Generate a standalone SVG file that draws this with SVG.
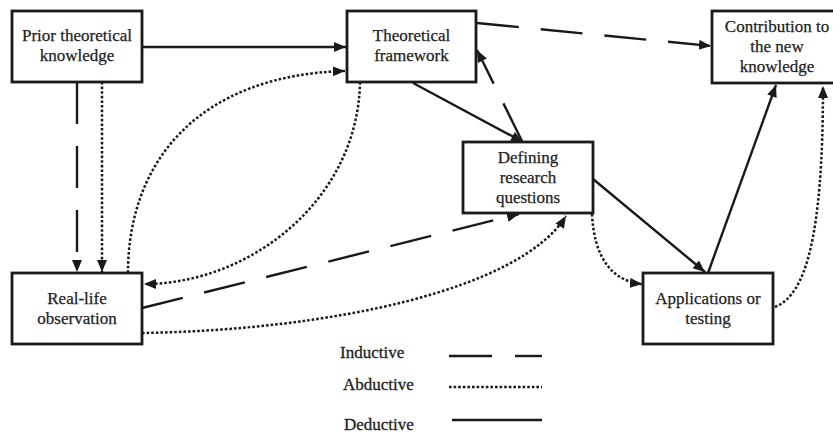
<svg xmlns="http://www.w3.org/2000/svg" width="833" height="434" viewBox="0 0 833 434">
  <style>
    .box { fill: #fff; stroke: #1a1a1a; stroke-width: 2.8; }
    .lbl { font-family: "Liberation Serif", "Times New Roman", serif; font-size: 17px; fill: #222; stroke: #222; stroke-width: 0.25; text-anchor: middle; }
    .leg { font-family: "Liberation Serif", "Times New Roman", serif; font-size: 17px; fill: #222; stroke: #222; stroke-width: 0.3; }
    .ln { fill: none; stroke: #1a1a1a; stroke-width: 2.4; }
    .ind { stroke-dasharray: 42 22; }
    .abd { stroke-dasharray: 2.6 2; stroke-width: 2.5; }
  </style>
  <defs>
    <marker id="arr" markerUnits="userSpaceOnUse" markerWidth="13" markerHeight="11" refX="12" refY="5" orient="auto">
      <path d="M0,0 L12,5 L0,10 z" fill="#1a1a1a"/>
    </marker>
  </defs>

  <rect width="833" height="434" fill="#fff"/>

  <g id="connectors">
    <!-- deductive (solid) -->
    <line class="ln" x1="142" y1="47" x2="346" y2="47" marker-end="url(#arr)"/>
    <line class="ln" x1="413" y1="83" x2="523" y2="142" marker-end="url(#arr)"/>
    <line class="ln" x1="593" y1="179" x2="705" y2="272" marker-end="url(#arr)"/>
    <line class="ln" x1="708" y1="273" x2="776" y2="85" marker-end="url(#arr)"/>

    <!-- inductive (dashed) -->
    <line class="ln ind" x1="77" y1="82" x2="77" y2="272" marker-end="url(#arr)"/>
    <line class="ln ind" x1="477" y1="23" x2="711" y2="46" marker-end="url(#arr)"/>
    <line class="ln ind" x1="522" y1="141" x2="477" y2="50" marker-end="url(#arr)"/>
    <line class="ln ind" x1="142" y1="308" x2="519" y2="214" marker-end="url(#arr)"/>

    <!-- abductive (dotted) -->
    <line class="ln abd" x1="102" y1="82" x2="102" y2="272" marker-end="url(#arr)"/>
    <path class="ln abd" d="M128,273 C128,160 200,75 345,71" marker-end="url(#arr)"/>
    <path class="ln abd" d="M360,82 C358,200 250,284 144,284" marker-end="url(#arr)"/>
    <path class="ln abd" d="M142,333 C330,330 520,290 566,216" marker-end="url(#arr)"/>
    <path class="ln abd" d="M592,214 C594,255 610,281 642,284" marker-end="url(#arr)"/>
    <path class="ln abd" d="M775,307 C805,295 823,240 823,86" marker-end="url(#arr)"/>
  </g>

  <g id="prior-knowledge">
    <rect class="box" x="12" y="11" width="130" height="71"/>
    <text class="lbl" x="77" y="41">Prior theoretical</text>
    <text class="lbl" x="77" y="60.5">knowledge</text>
  </g>

  <g id="theoretical-framework">
    <rect class="box" x="347" y="11" width="129" height="71"/>
    <text class="lbl" x="411.5" y="41">Theoretical</text>
    <text class="lbl" x="411.5" y="60.5">framework</text>
  </g>

  <g id="contribution">
    <rect class="box" x="712" y="11" width="130" height="72"/>
    <text class="lbl" x="777" y="32">Contribution to</text>
    <text class="lbl" x="777" y="52">the new</text>
    <text class="lbl" x="777" y="72">knowledge</text>
  </g>

  <g id="research-questions">
    <rect class="box" x="463" y="142" width="130" height="71"/>
    <text class="lbl" x="528" y="163">Defining</text>
    <text class="lbl" x="528" y="183">research</text>
    <text class="lbl" x="528" y="203">questions</text>
  </g>

  <g id="real-life-observation">
    <rect class="box" x="12" y="273" width="130" height="71"/>
    <text class="lbl" x="77" y="304">Real-life</text>
    <text class="lbl" x="77" y="323.5">observation</text>
  </g>

  <g id="applications">
    <rect class="box" x="643" y="273" width="130" height="71"/>
    <text class="lbl" x="708" y="304">Applications or</text>
    <text class="lbl" x="708" y="323.5">testing</text>
  </g>

  <g id="legend">
    <text class="leg" x="340" y="358">Inductive</text>
    <text class="leg" x="343" y="390">Abductive</text>
    <text class="leg" x="344" y="430">Deductive</text>
    <line class="ln" x1="449" y1="356" x2="492" y2="356"/>
    <line class="ln" x1="515" y1="356" x2="542" y2="356"/>
    <line class="ln abd" x1="449" y1="387" x2="542" y2="387"/>
    <line class="ln" x1="452" y1="420" x2="542" y2="420"/>
  </g>
</svg>
